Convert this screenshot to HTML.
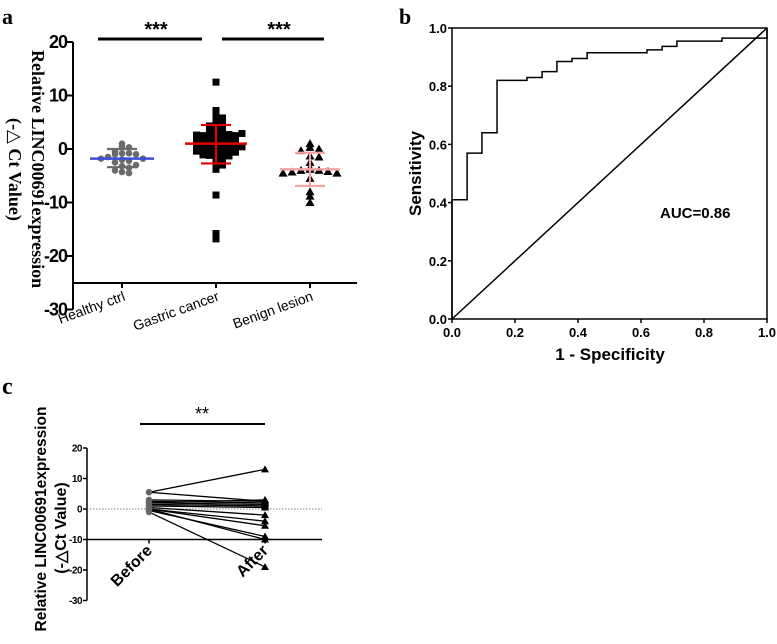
<!DOCTYPE html>
<html><head><meta charset="utf-8"><style>
body{margin:0;background:#fff;}
svg{display:block;font-family:"Liberation Sans",Arial,sans-serif;}
</style></head><body>
<svg width="777" height="644" viewBox="0 0 777 644">
<g id="pa"></g>
<g id="pb"></g>
<g id="pc"></g>
</svg>
<script>
// Panel a data
const aCats = ["Healthy ctrl","Gastric cancer","Benign lesion"];
const aTicks = [20,10,0,-10,-20,-30];
const healthyVals = [1,0.5,0.3,-0.5,-0.8,-0.8,-1,-1,-1.5,-1.8,-1.8,-2,-2.2,-2.5,-3,-3.2,-3.5,-4,-4.3,-4.5];
const gastricVals = [12.5,7.2,6.8,6,5.8,5.2,4.6,4.5,4.3,4,3.8,3.5,3.3,3,3,2.8,2.7,2.5,2.5,2.3,2.2,2,2,1.8,1.8,1.5,1.5,1.4,1.2,1.2,1,1,0.8,0.8,0.6,0.5,0.5,0.3,0.2,0,0,-0.2,-0.3,-0.5,-0.5,-0.7,-0.8,-1,-1,-1.2,-1.3,-1.5,-1.8,-2,-2.2,-2.5,-3,-3.8,-8.6,-15.8,-16.8,3.2,2.6,2.1,1.6,1.1,0.7,0.4,-0.1,-0.6,-1.1,2.9,1.9,0.9,-0.4];
const benignVals = [1,0.3,0,-0.3,-1.3,-1.5,-2.5,-3.5,-3.8,-4,-4,-4.2,-4.3,-4.5,-4.5,-5.5,-8,-8.8,-10];
const aMeans = [-1.8,1.0,-3.8];
const aSdHi = [0,4.5,-0.7];
const aSdLo = [-3.4,-2.7,-6.9];
// Panel b data
const rocFpr = [0,0.048,0.048,0.095,0.095,0.143,0.143,0.238,0.238,0.286,0.286,0.333,0.333,0.381,0.381,0.429,0.429,0.619,0.619,0.667,0.667,0.714,0.714,0.857,0.857,1,1];
const rocTpr = [0.41,0.41,0.57,0.57,0.64,0.64,0.82,0.82,0.83,0.83,0.85,0.85,0.885,0.885,0.895,0.895,0.915,0.915,0.925,0.925,0.937,0.937,0.955,0.955,0.965,0.965,1];
const bTicks = [0,0.2,0.4,0.6,0.8,1.0];
// Panel c data
const cBefore = [5.5,5.5,3,2.5,2,2,1.5,1,0.5,0,0,-0.5,0,-1];
const cAfter = [13,2.5,2.5,2,1.5,3,1,0.5,-2,-4,-5.5,-9,-10,-19];
const cTicks = [20,10,0,-10,-20,-30];
const cCats = ["Before","After"];

const NS="http://www.w3.org/2000/svg";
function mk(p,tag,at,txt){const e=document.createElementNS(NS,tag);for(const k in at)e.setAttribute(k,at[k]);if(txt!==undefined)e.textContent=txt;p.appendChild(e);return e;}

// ---- Panel a
const pa=document.getElementById('pa');
const ay=v=>149-v*5.35;
const ax=i=>[122,216,310][i];
let t=mk(pa,'text',{x:2,y:24,'font-family':'Liberation Serif,serif','font-weight':'bold','font-size':22},'a');

let l=mk(pa,'path',{d:`M73,${ay(20)}V${ay(-30)}M73,283H357`,stroke:'#000','stroke-width':2,fill:'none'});

aTicks.forEach(v=>{
 const tk=mk(pa,'line',{x1:67,x2:73,y1:ay(v),y2:ay(v),stroke:'#000','stroke-width':2});
 
 const tl=mk(pa,'text',{x:67,y:ay(v)+6,'text-anchor':'end','font-weight':'bold','font-size':18,'letter-spacing':'-1'},v);
 
});
aCats.forEach((c,i)=>{
 const tk=mk(pa,'line',{x1:ax(i),x2:ax(i),y1:283,y2:288,stroke:'#000','stroke-width':2});
 
 const tl=mk(pa,'text',{x:ax(i)+4,y:300,'text-anchor':'end','font-size':14,transform:`rotate(-20 ${ax(i)+4} 300)`},c);
 
});
let yt=mk(pa,'text',{x:0,y:0,'font-family':'Liberation Serif,serif','font-weight':'bold','font-size':18,transform:'translate(32,50) rotate(90)'},'Relative LINC00691expression');

yt=mk(pa,'text',{x:0,y:0,'font-family':'Liberation Serif,"DejaVu Sans",serif','font-weight':'bold','font-size':18,transform:'translate(9,118) rotate(90)'},'(-△ Ct Value)');

[[98,202,156],[222,324,279]].forEach(s=>{
 const b=mk(pa,'line',{x1:s[0],x2:s[1],y1:39,y2:39,stroke:'#000','stroke-width':3});
 
 const st=mk(pa,'text',{x:s[2],y:36,'text-anchor':'middle','font-weight':'bold','font-size':20},'***');
 
});
function swarm(vals,i,kind,color,sp,bw){
 const bins={};
 vals.forEach(v=>{const b=Math.round(v/bw);(bins[b]=bins[b]||[]).push(v);});
 Object.values(bins).forEach(arr=>{
  arr.forEach((v,k)=>{
   const off=(k%2?1:-1)*Math.ceil(k/2)*sp;
   const cx=ax(i)+off, cy=ay(v);
   let e;
   if(kind==='c') e=mk(pa,'circle',{cx,cy,r:3.3,fill:color});
   else if(kind==='s') e=mk(pa,'rect',{x:cx-3.5,y:cy-3.5,width:7,height:7,fill:color});
   else e=mk(pa,'polygon',{points:`${cx},${cy-4.5} ${cx-4.5},${cy+3.5} ${cx+4.5},${cy+3.5}`,fill:color});
   
  });
 });
}
swarm(healthyVals,0,'c','#6b6b6b',7,1.2);
swarm(gastricVals,1,'s','#000',6.5,0.55);
swarm(benignVals,2,'t','#000',9,1.0);
const aCol=['#6b6b6b','#e00000','#f4a3a3'];const mCol=['#3b4fd8','#e00000','#f4a3a3'];const mW=[32,31,30];
aMeans.forEach((m,i)=>{
 const e=mk(pa,'path',{d:`M${ax(i)},${ay(aSdHi[i])}V${ay(aSdLo[i])}M${ax(i)-15},${ay(aSdHi[i])}h30M${ax(i)-15},${ay(aSdLo[i])}h30`,stroke:aCol[i],'stroke-width':2.2,fill:'none'});
 
 const ml=mk(pa,'line',{x1:ax(i)-mW[i],x2:ax(i)+mW[i],y1:ay(m),y2:ay(m),stroke:mCol[i],'stroke-width':2.5});
 
});

// ---- Panel b
const pb=document.getElementById('pb');
const bx=v=>452+v*315, by=v=>319-v*291;
t=mk(pb,'text',{x:399,y:24,'font-family':'Liberation Serif,serif','font-weight':'bold','font-size':22},'b');

l=mk(pb,'rect',{x:bx(0),y:by(1),width:315,height:291,fill:'none',stroke:'#000','stroke-width':1.5});

bTicks.forEach(v=>{
 let e=mk(pb,'line',{x1:bx(0)-4,x2:bx(0),y1:by(v),y2:by(v),stroke:'#000','stroke-width':1.5});
 
 e=mk(pb,'text',{x:bx(0)-5,y:by(v)+5,'text-anchor':'end','font-weight':'bold','font-size':13},v.toFixed(1));
 
 e=mk(pb,'line',{x1:bx(v),x2:bx(v),y1:by(0),y2:by(0)+4,stroke:'#000','stroke-width':1.5});
 
 e=mk(pb,'text',{x:bx(v),y:by(0)+18,'text-anchor':'middle','font-weight':'bold','font-size':13},v.toFixed(1));
 
});
t=mk(pb,'text',{x:610,y:360,'text-anchor':'middle','font-weight':'bold','font-size':17},'1 - Specificity');

t=mk(pb,'text',{x:0,y:0,'text-anchor':'middle','font-weight':'bold','font-size':17,transform:`translate(421,${by(0.5)}) rotate(-90)`},'Sensitivity');

l=mk(pb,'line',{x1:bx(0),y1:by(0),x2:bx(1),y2:by(1),stroke:'#000','stroke-width':1.5});

let d='M'+bx(0)+','+by(0)+'L'+bx(rocFpr[0])+','+by(rocTpr[0]);
rocFpr.forEach((f,i)=>{d+='L'+bx(f)+','+by(rocTpr[i]);});
l=mk(pb,'path',{d,fill:'none',stroke:'#000','stroke-width':1.5});

t=mk(pb,'text',{x:660,y:218,'font-weight':'bold','font-size':15},'AUC=0.86');


// ---- Panel c
const pc=document.getElementById('pc');
const cy=v=>509-v*3.05, cx=i=>[149,265][i];
t=mk(pc,'text',{x:2,y:394,'font-family':'Liberation Serif,serif','font-weight':'bold','font-size':24},'c');

l=mk(pc,'path',{d:`M87,${cy(20)}V${cy(-30)}`,stroke:'#000','stroke-width':1.5,fill:'none'});

l=mk(pc,'line',{x1:87,x2:322,y1:cy(-10),y2:cy(-10),stroke:'#000','stroke-width':1.5});

l=mk(pc,'line',{x1:87,x2:322,y1:cy(0),y2:cy(0),stroke:'#555','stroke-width':0.8,'stroke-dasharray':'1.5,1.5'});

cTicks.forEach(v=>{
 let e=mk(pc,'line',{x1:83,x2:87,y1:cy(v),y2:cy(v),stroke:'#000','stroke-width':1.5});
 
 e=mk(pc,'text',{x:82,y:cy(v)+3.5,'text-anchor':'end','font-weight':'bold','font-size':10,'letter-spacing':'-0.5'},v);
 
});
cCats.forEach((c,i)=>{
 let e=mk(pc,'line',{x1:cx(i),x2:cx(i),y1:cy(-10),y2:cy(-10)+4,stroke:'#000','stroke-width':1.5});
 
 e=mk(pc,'text',{x:cx(i)+4,y:cy(-10)+12,'text-anchor':'end','font-weight':'bold','font-size':16,transform:`rotate(-45 ${cx(i)+4} ${cy(-10)+12})`},c);
 
});
t=mk(pc,'text',{x:0,y:0,'text-anchor':'middle','font-weight':'bold','font-size':15.5,transform:'translate(46,519) rotate(-90)'},'Relative LINC00691expression');

t=mk(pc,'text',{x:0,y:0,'text-anchor':'middle','font-weight':'bold','font-size':16,transform:'translate(66,528) rotate(-90)'},'(-△Ct Value)');

l=mk(pc,'line',{x1:140,x2:265,y1:424,y2:424,stroke:'#000','stroke-width':2});

t=mk(pc,'text',{x:202,y:420,'text-anchor':'middle','font-size':18},'**');

cBefore.forEach((b,i)=>{
 let e=mk(pc,'line',{x1:cx(0),y1:cy(b),x2:cx(1),y2:cy(cAfter[i]),stroke:'#000','stroke-width':1.3});
 
 e=mk(pc,'circle',{cx:cx(0),cy:cy(b),r:3.2,fill:'#666'});
 
 const x=cx(1),y=cy(cAfter[i]);
 e=mk(pc,'polygon',{points:`${x},${y-4} ${x-4},${y+3} ${x+4},${y+3}`,fill:'#000'});
 
});
</script>
</body></html>
